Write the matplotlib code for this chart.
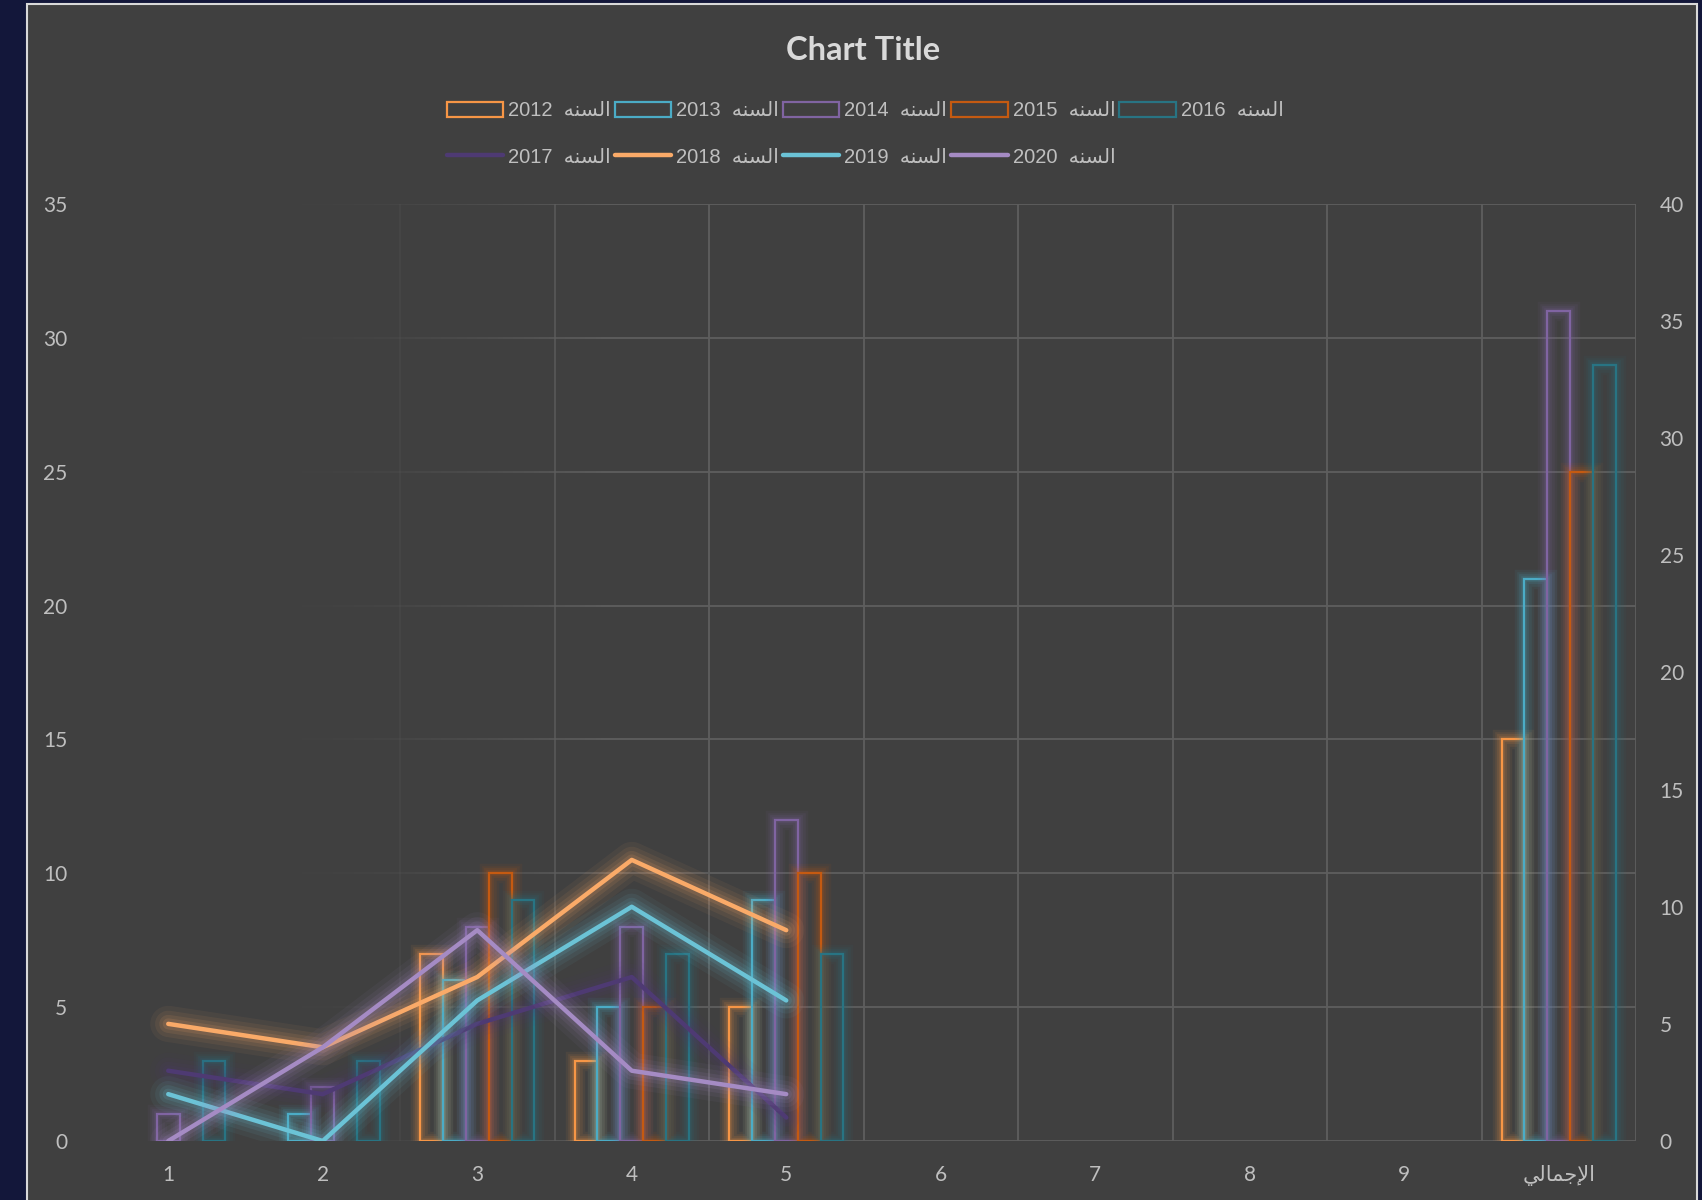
import matplotlib
matplotlib.use('Agg')
import matplotlib.pyplot as plt
import matplotlib.patheffects as pe
from matplotlib.collections import LineCollection
from matplotlib.lines import Line2D
from matplotlib.patches import Rectangle
import numpy as np

# ---- data ----
categories = ['1', '2', '3', '4', '5', '6', '7', '8', '9', 'الإجمالي']

bar_names = ['السنه 2012', 'السنه 2013', 'السنه 2014', 'السنه 2015', 'السنه 2016']
v2012 = [0, 0, 7, 3, 5, 0, 0, 0, 0, 15]
v2013 = [0, 1, 6, 5, 9, 0, 0, 0, 0, 21]
v2014 = [1, 2, 8, 8, 12, 0, 0, 0, 0, 31]
v2015 = [0, 0, 10, 5, 10, 0, 0, 0, 0, 25]
v2016 = [3, 3, 9, 7, 7, 0, 0, 0, 0, 29]
bar_colors = ['#F79646', '#4BACC6', '#8064A2', '#C55A11', '#287483']

line_names = ['السنه 2017', 'السنه 2018', 'السنه 2019', 'السنه 2020']
v2017 = [3, 2, 5, 7, 1]
v2018 = [5, 4, 7, 12, 9]
v2019 = [2, 0, 6, 10, 6]
v2020 = [0, 4, 9, 3, 2]
line_colors = ['#4E3A73', '#FAAA68', '#6BC3D6', '#A58BC4']

left_ticks = list(range(0, 36, 5))
right_ticks = list(range(0, 41, 5))

# ---- arabic shaping (matplotlib has no bidi / joining) ----
FORMS = {  # isolated, final, initial, medial
    'ا': ('\uFE8D', '\uFE8E', None, None),
    'إ': ('\uFE87', '\uFE88', None, None),
    'ل': ('\uFEDD', '\uFEDE', '\uFEDF', '\uFEE0'),
    'س': ('\uFEB1', '\uFEB2', '\uFEB3', '\uFEB4'),
    'ن': ('\uFEE5', '\uFEE6', '\uFEE7', '\uFEE8'),
    'ه': ('\uFEE9', '\uFEEA', '\uFEEB', '\uFEEC'),
    'ج': ('\uFE9D', '\uFE9E', '\uFE9F', '\uFEA0'),
    'م': ('\uFEE1', '\uFEE2', '\uFEE3', '\uFEE4'),
    'ي': ('\uFEF1', '\uFEF2', '\uFEF3', '\uFEF4'),
}
LAM_ALEF = {'ا': ('\uFEFB', '\uFEFC'), 'إ': ('\uFEF9', '\uFEFA')}


def shape(word):
    if not any(c in FORMS for c in word):
        return word
    glyphs = []
    i = 0
    while i < len(word):
        ch = word[i]
        joined = i > 0 and FORMS[word[i - 1]][2] is not None
        if ch == 'ل' and i + 1 < len(word) and word[i + 1] in LAM_ALEF:
            iso, fin = LAM_ALEF[word[i + 1]]
            glyphs.append(fin if joined else iso)
            i += 2
            continue
        iso, fin, ini, med = FORMS[ch]
        nxt = i + 1 < len(word) and ini is not None
        if joined and nxt:
            g = med
        elif joined:
            g = fin
        elif nxt:
            g = ini
        else:
            g = iso
        glyphs.append(g)
        i += 1
    return ''.join(reversed(glyphs))


def visual_label(name):
    word, num = name.split()
    return num + '  ' + shape(word)


def glow(color, layers):
    return [pe.Stroke(linewidth=w, foreground=color, alpha=a) for w, a in layers] + [pe.Normal()]


TXT = '#BFBFBF'
GRID = '#5E5E5E'
BG = '#404040'

fig = plt.figure(figsize=(17.02, 12), dpi=100, facecolor='#13173A')
W, H = 1702, 1200
fig.patches.append(Rectangle((27 / W, -0.01), (1697 - 27) / W, 1 - 4 / H + 0.01,
                             transform=fig.transFigure, facecolor=BG,
                             edgecolor='#D9D9D9', linewidth=1.5, zorder=-10))

ax = fig.add_axes([91 / W, 59 / H, (1636 - 91) / W, (1141 - 204) / H])
ax.patch.set_alpha(0)
x = np.arange(1, len(categories) + 1)
ax.set_xlim(0.5, len(categories) + 0.5)
ax.set_ylim(0, 35)


def fade(xv):
    t = np.clip((xv - 1.4) / 2.4, 0, 1)
    return t ** 2


# gridlines fading in from the left
col = np.array(matplotlib.colors.to_rgba(GRID))
xs = np.linspace(0.5, len(categories) + 0.5, 301)
segs, cols = [], []
for yv in left_ticks:
    for a, b in zip(xs[:-1], xs[1:]):
        segs.append([(a, yv), (b, yv)])
        c = col.copy()
        c[3] = fade((a + b) / 2)
        cols.append(c)
for bx in np.arange(0.5, len(categories) + 1, 1.0):
    segs.append([(bx, 0), (bx, 35)])
    c = col.copy()
    c[3] = fade(bx)
    cols.append(c)
ax.add_collection(LineCollection(segs, colors=cols, linewidths=1.3, zorder=0.5))

bar_series = [v2012, v2013, v2014, v2015, v2016]
bw = 0.148
bar_glow = [(14, 0.07), (10.5, 0.09), (7, 0.12), (4, 0.15)]
for k, (vals, color) in enumerate(zip(bar_series, bar_colors)):
    vals = np.array(vals, dtype=float)
    mask = vals > 0
    ax.bar(x[mask] + (k - 2) * bw, vals[mask], width=bw, fill=False,
           edgecolor=color, linewidth=1.6, zorder=2,
           path_effects=glow(color, bar_glow))

ax2 = ax.twinx()
ax2.set_ylim(0, 40)
line_series = [v2017, v2018, v2019, v2020]
line_glow = [(26, 0.06), (19, 0.08), (13, 0.1), (8, 0.13)]
for vals, color in zip(line_series, line_colors):
    ax2.plot(x[:len(vals)], vals, color=color, linewidth=3.2,
             solid_capstyle='round', solid_joinstyle='round', zorder=3,
             path_effects=glow(color, line_glow))

for a in (ax, ax2):
    for s in a.spines.values():
        s.set_visible(False)
    a.tick_params(length=0, colors=TXT, labelsize=15)

ax.set_xticks(x)
ax.set_xticklabels([shape(c) for c in categories], family=['Lato', 'DejaVu Sans'])
ax.tick_params(axis='x', pad=17)
ax.set_yticks(left_ticks)
ax.set_yticklabels([str(t) for t in left_ticks], family='Lato')
ax.tick_params(axis='y', pad=17)
ax2.set_yticks(right_ticks)
ax2.set_yticklabels([str(t) for t in right_ticks], family='Lato')
ax2.tick_params(axis='y', pad=17)

fig.text(863 / W, 1 - 50 / H, 'Chart Title', ha='center', va='center',
         fontsize=23.5, fontweight='bold', color='#D9D9D9', family='Lato')

# legend: 5 bar entries on row 1, 4 line entries on row 2
bar_handles = [Rectangle((0, 0), 1, 1, fill=False, edgecolor=c, linewidth=1.6)
               for c in bar_colors]
line_handles = [Line2D([], [], color=c, linewidth=3.2, solid_capstyle='round')
                for c in line_colors]
handles, labels = [], []
for i in range(5):
    handles.append(bar_handles[i])
    labels.append(visual_label(bar_names[i]))
    if i < 4:
        handles.append(line_handles[i])
        labels.append(visual_label(line_names[i]))
leg = fig.legend(handles, labels, loc='center', bbox_to_anchor=(865 / W, 1 - 134 / H),
                 ncol=5, frameon=False, handlelength=2.8, handleheight=0.8,
                 handletextpad=0.25, columnspacing=0.2, labelspacing=1.35,
                 prop={'family': ['Liberation Sans', 'DejaVu Sans'], 'size': 14.5})
for t in leg.get_texts():
    t.set_color(TXT)

fig.savefig('out.png', dpi=100, facecolor=fig.get_facecolor())
